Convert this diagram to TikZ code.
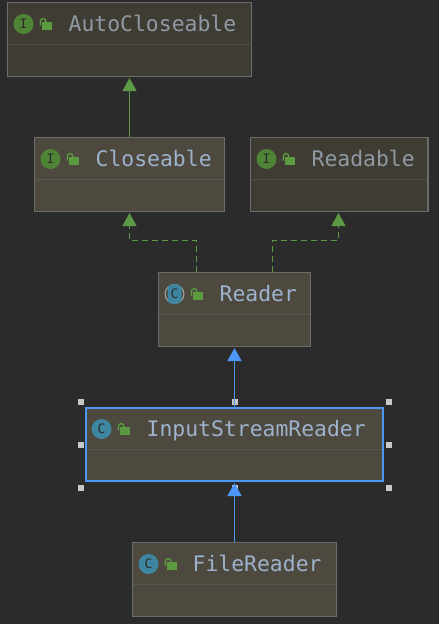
\documentclass[tikz,border=0pt]{standalone}
\usepackage{fontspec}
\setmonofont{DejaVu Sans Mono}
\usetikzlibrary{arrows.meta,calc}
\definecolor{bgc}{HTML}{2B2B2B}
\definecolor{fillL}{HTML}{4D493E}
\definecolor{fillD}{HTML}{3F3C34}
\definecolor{edgeL}{HTML}{6C6C6C}
\definecolor{sepc}{HTML}{5A574E}
\definecolor{sepd}{HTML}{4E4C45}
\definecolor{txtL}{HTML}{9DB2CC}
\definecolor{txtD}{HTML}{8F9AA3}
\definecolor{greenc}{HTML}{5C9A46}
\definecolor{lockc}{HTML}{5C9A3F}
\definecolor{ifc}{HTML}{4F8436}
\definecolor{clc}{HTML}{3E86A0}
\definecolor{bluec}{HTML}{4C97F5}
\definecolor{handc}{HTML}{C8C8C8}
\tikzset{
  x=1pt,y=-1pt,
  umlbox/.style={minimum width=#1,minimum height=75pt,inner sep=0pt,anchor=north west,outer sep=0pt},
  namelabel/.style={font=\ttfamily\fontsize{21.4}{24}\selectfont,inner sep=0pt,anchor=base west},
  badge/.style={circle,minimum size=20pt,inner sep=0pt,font=\ttfamily\fontsize{13}{14}\selectfont,text=bgc},
  inherit/.style={draw=greenc,line width=1.1pt,-{Triangle[width=14pt,length=13pt,fill=greenc]}},
  realize/.style={inherit,dash pattern=on 6pt off 4pt},
  selinherit/.style={draw=bluec,line width=1.3pt,-{Triangle[width=14pt,length=13pt,fill=bluec]}},
  grip/.style={fill=handc,draw=none,minimum size=6pt,inner sep=0pt},
}
\newcommand{\lockicon}[1]{%
  \fill[lockc] ($(#1)+(-2.7,-2.7)$) rectangle ($(#1)+(6.7,4.7)$);
  \draw[lockc,line width=1.4pt] ($(#1)+(-4.7,0.5)$) -- ($(#1)+(-4.7,-3)$) .. controls ($(#1)+(-4.7,-7.6)$) and ($(#1)+(1,-7.6)$) .. ($(#1)+(1,-3)$);
}
% #1 node name, #2 face colour, #3 separator colour, #4 border inset
\newcommand{\boxface}[4]{%
  \fill[#2] ($(#1.north west)+(#4,#4)$) rectangle ($(#1.south east)+(-#4,-#4)$);
  \fill[#3] ($(#1.north west)+(#4,42.2)$) rectangle ($(#1.north east)+(-#4,43.2)$);
}
\begin{document}
\begin{tikzpicture}
\useasboundingbox[fill=bgc] (0,0) rectangle (439,624);
% boxes
\node[umlbox=245pt,fill=edgeL] (ac) at (7,2) {};
\node[umlbox=191pt,fill=edgeL] (cl) at (34,137) {};
\node[umlbox=179pt,fill=edgeL] (rd) at (249.5,137) {};
\node[umlbox=153pt,fill=edgeL] (rr) at (158,272) {};
\node[umlbox=299pt,fill=bluec] (is) at (85,407) {};
\node[umlbox=205pt,fill=edgeL] (fr) at (132,542) {};
\boxface{ac}{fillD}{sepd}{1.4}
\boxface{cl}{fillL}{sepc}{1.4}
\boxface{rd}{fillD}{sepd}{1.4}
\boxface{rr}{fillL}{sepc}{1.4}
\boxface{is}{fillL}{sepc}{2}
\boxface{fr}{fillL}{sepc}{1.4}
% badges
\node[badge,fill=ifc] (ac-i) at (23.5,24) {I};
\node[badge,fill=ifc] (cl-i) at (50.5,159) {I};
\node[badge,fill=ifc] (rd-i) at (266.5,159) {I};
\fill[gray!70] (174.5,294) circle[radius=10];
\fill[fillL] (174.5,294) circle[radius=8.8];
\begin{scope}
\clip (167.5,284) rectangle (181.5,304);
\node[badge,fill=clc] (rr-c) at (174.5,294) {C};
\end{scope}
\node[badge,fill=clc] (is-c) at (101.5,429) {C};
\node[badge,fill=clc] (fr-c) at (148.5,564) {C};
% locks
\coordinate (ac-l) at (45,25); \lockicon{ac-l}
\coordinate (cl-l) at (72,160); \lockicon{cl-l}
\coordinate (rd-l) at (288,160); \lockicon{rd-l}
\coordinate (rr-l) at (196,295); \lockicon{rr-l}
\coordinate (is-l) at (123,430); \lockicon{is-l}
\coordinate (fr-l) at (170,565); \lockicon{fr-l}
% labels
\node[namelabel,text=txtD] (ac-t) at (68.5,31) {AutoCloseable};
\node[namelabel,text=txtL] (cl-t) at (95.5,166) {Closeable};
\node[namelabel,text=txtD] (rd-t) at (311.5,166) {Readable};
\node[namelabel,text=txtL] (rr-t) at (219.5,301) {Reader};
\node[namelabel,text=txtL] (is-t) at (146.5,436) {InputStreamReader};
\node[namelabel,text=txtL] (fr-t) at (192.5,571) {FileReader};
% selection handles
\node[grip] (h1) at (81,402) {};
\node[grip] (h2) at (235,402) {};
\node[grip] (h3) at (389,402) {};
\node[grip] (h4) at (81,445) {};
\node[grip] (h5) at (389,445) {};
\node[grip] (h6) at (81,487.5) {};
\node[grip] (h7) at (235,487.5) {};
\node[grip] (h8) at (389,487.5) {};
% connectors
\draw[inherit,shorten >=1pt] (cl.north) -- (ac.south);
\coordinate (rrL) at (196.5,272);
\coordinate (rrR) at (272.5,272);
\coordinate (clB) at (129.5,212);
\coordinate (rdB) at (338.5,212);
\draw[realize,shorten >=1pt] (rrL) -- (196.5,240.5) -- (129.5,240.5) -- (clB);
\draw[realize,shorten >=1pt] (rrR) -- (272.5,240.5) -- (338.5,240.5) -- (rdB);
\draw[selinherit,shorten >=1pt] (is.north) -- (rr.south);
\draw[selinherit,shorten >=1pt] (fr.north) -- (is.south);
\end{tikzpicture}
\end{document}
